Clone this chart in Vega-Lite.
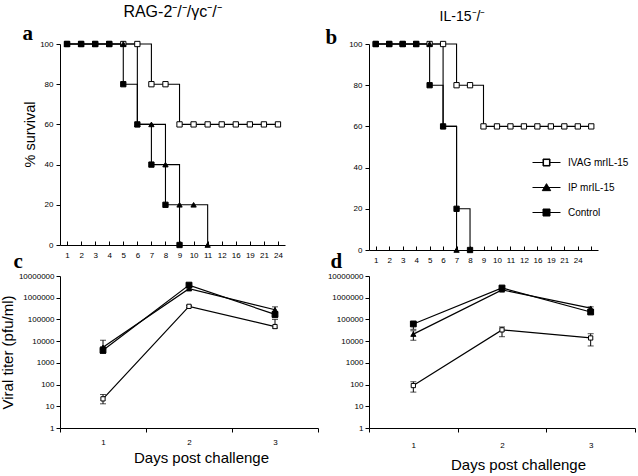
{
  "$schema": "https://vega.github.io/schema/vega-lite/v6.json",
  "background": "white",
  "padding": {"left": 0, "top": 4, "right": 2, "bottom": 2},
  "config": {
    "view": {"stroke": null},
    "font": "Liberation Sans",
    "axis": {"labelFont": "Liberation Sans", "titleFont": "Liberation Sans", "labelFontSize": 8, "labelColor": "black", "titleColor": "black", "titleFontWeight": "normal", "domainColor": "black", "tickColor": "black", "grid": false, "domainWidth": 1, "tickWidth": 1},
    "title": {"font": "Liberation Sans", "fontWeight": "normal", "color": "black"}
  },
  "datasets": {
    "surv": [
      {"panel":"a","series":"IVAG mrIL-15","day":"1","pct":100},
      {"panel":"a","series":"IVAG mrIL-15","day":"2","pct":100},
      {"panel":"a","series":"IVAG mrIL-15","day":"3","pct":100},
      {"panel":"a","series":"IVAG mrIL-15","day":"4","pct":100},
      {"panel":"a","series":"IVAG mrIL-15","day":"5","pct":100},
      {"panel":"a","series":"IVAG mrIL-15","day":"6","pct":100},
      {"panel":"a","series":"IVAG mrIL-15","day":"7","pct":80},
      {"panel":"a","series":"IVAG mrIL-15","day":"8","pct":80},
      {"panel":"a","series":"IVAG mrIL-15","day":"9","pct":60},
      {"panel":"a","series":"IVAG mrIL-15","day":"10","pct":60},
      {"panel":"a","series":"IVAG mrIL-15","day":"11","pct":60},
      {"panel":"a","series":"IVAG mrIL-15","day":"12","pct":60},
      {"panel":"a","series":"IVAG mrIL-15","day":"16","pct":60},
      {"panel":"a","series":"IVAG mrIL-15","day":"19","pct":60},
      {"panel":"a","series":"IVAG mrIL-15","day":"21","pct":60},
      {"panel":"a","series":"IVAG mrIL-15","day":"24","pct":60},
      {"panel":"a","series":"IP mrIL-15","day":"1","pct":100},
      {"panel":"a","series":"IP mrIL-15","day":"2","pct":100},
      {"panel":"a","series":"IP mrIL-15","day":"3","pct":100},
      {"panel":"a","series":"IP mrIL-15","day":"4","pct":100},
      {"panel":"a","series":"IP mrIL-15","day":"5","pct":100},
      {"panel":"a","series":"IP mrIL-15","day":"6","pct":60},
      {"panel":"a","series":"IP mrIL-15","day":"7","pct":60},
      {"panel":"a","series":"IP mrIL-15","day":"8","pct":40},
      {"panel":"a","series":"IP mrIL-15","day":"9","pct":20},
      {"panel":"a","series":"IP mrIL-15","day":"10","pct":20},
      {"panel":"a","series":"IP mrIL-15","day":"11","pct":0},
      {"panel":"a","series":"Control","day":"1","pct":100},
      {"panel":"a","series":"Control","day":"2","pct":100},
      {"panel":"a","series":"Control","day":"3","pct":100},
      {"panel":"a","series":"Control","day":"4","pct":100},
      {"panel":"a","series":"Control","day":"5","pct":80},
      {"panel":"a","series":"Control","day":"6","pct":60},
      {"panel":"a","series":"Control","day":"7","pct":40},
      {"panel":"a","series":"Control","day":"8","pct":20},
      {"panel":"a","series":"Control","day":"9","pct":0},
      {"panel":"b","series":"IVAG mrIL-15","day":"1","pct":100},
      {"panel":"b","series":"IVAG mrIL-15","day":"2","pct":100},
      {"panel":"b","series":"IVAG mrIL-15","day":"3","pct":100},
      {"panel":"b","series":"IVAG mrIL-15","day":"4","pct":100},
      {"panel":"b","series":"IVAG mrIL-15","day":"5","pct":100},
      {"panel":"b","series":"IVAG mrIL-15","day":"6","pct":100},
      {"panel":"b","series":"IVAG mrIL-15","day":"7","pct":80},
      {"panel":"b","series":"IVAG mrIL-15","day":"8","pct":80},
      {"panel":"b","series":"IVAG mrIL-15","day":"9","pct":60},
      {"panel":"b","series":"IVAG mrIL-15","day":"10","pct":60},
      {"panel":"b","series":"IVAG mrIL-15","day":"11","pct":60},
      {"panel":"b","series":"IVAG mrIL-15","day":"12","pct":60},
      {"panel":"b","series":"IVAG mrIL-15","day":"16","pct":60},
      {"panel":"b","series":"IVAG mrIL-15","day":"19","pct":60},
      {"panel":"b","series":"IVAG mrIL-15","day":"21","pct":60},
      {"panel":"b","series":"IVAG mrIL-15","day":"24","pct":60},
      {"panel":"b","series":"IVAG mrIL-15","day":"27","pct":60},
      {"panel":"b","series":"IP mrIL-15","day":"1","pct":100},
      {"panel":"b","series":"IP mrIL-15","day":"2","pct":100},
      {"panel":"b","series":"IP mrIL-15","day":"3","pct":100},
      {"panel":"b","series":"IP mrIL-15","day":"4","pct":100},
      {"panel":"b","series":"IP mrIL-15","day":"5","pct":100},
      {"panel":"b","series":"IP mrIL-15","day":"6","pct":60},
      {"panel":"b","series":"IP mrIL-15","day":"7","pct":0},
      {"panel":"b","series":"Control","day":"1","pct":100},
      {"panel":"b","series":"Control","day":"2","pct":100},
      {"panel":"b","series":"Control","day":"3","pct":100},
      {"panel":"b","series":"Control","day":"4","pct":100},
      {"panel":"b","series":"Control","day":"5","pct":80},
      {"panel":"b","series":"Control","day":"6","pct":60},
      {"panel":"b","series":"Control","day":"7","pct":20},
      {"panel":"b","series":"Control","day":"8","pct":0}
    ],
    "titer": [
      {"panel":"c","series":"IVAG mrIL-15","day":1,"titer":22,"lo":13,"hi":35},
      {"panel":"c","series":"IVAG mrIL-15","day":2,"titer":400000,"lo":360000,"hi":440000},
      {"panel":"c","series":"IVAG mrIL-15","day":3,"titer":47000,"lo":40000,"hi":100000},
      {"panel":"c","series":"IP mrIL-15","day":1,"titer":5200,"lo":3200,"hi":11000},
      {"panel":"c","series":"IP mrIL-15","day":2,"titer":2600000,"lo":2200000,"hi":3000000},
      {"panel":"c","series":"IP mrIL-15","day":3,"titer":280000,"lo":200000,"hi":380000},
      {"panel":"c","series":"Control","day":1,"titer":3800,"lo":2700,"hi":5500},
      {"panel":"c","series":"Control","day":2,"titer":3800000,"lo":3200000,"hi":4500000},
      {"panel":"c","series":"Control","day":3,"titer":170000,"lo":120000,"hi":230000},
      {"panel":"d","series":"IVAG mrIL-15","day":1,"titer":90,"lo":45,"hi":135},
      {"panel":"d","series":"IVAG mrIL-15","day":2,"titer":33000,"lo":16000,"hi":45000},
      {"panel":"d","series":"IVAG mrIL-15","day":3,"titer":14000,"lo":6000,"hi":22000},
      {"panel":"d","series":"IP mrIL-15","day":1,"titer":21000,"lo":11000,"hi":30000},
      {"panel":"d","series":"IP mrIL-15","day":2,"titer":2300000,"lo":null,"hi":null},
      {"panel":"d","series":"IP mrIL-15","day":3,"titer":330000,"lo":280000,"hi":380000},
      {"panel":"d","series":"Control","day":1,"titer":62000,"lo":35000,"hi":72000},
      {"panel":"d","series":"Control","day":2,"titer":2800000,"lo":2400000,"hi":3300000},
      {"panel":"d","series":"Control","day":3,"titer":220000,"lo":180000,"hi":260000}
    ]
  },
  "columns": 2,
  "bounds": "flush",
  "align": "each",
  "spacing": {"row": 26, "column": 51},
  "resolve": {
    "scale": {"shape": "independent", "fill": "independent", "size": "independent"},
    "legend": {"shape": "independent", "fill": "independent", "size": "independent"}
  },
  "concat": [
    {
      "width": 225, "height": 201,
      "title": {"text": "RAG-2⁻/⁻/γc⁻/⁻", "fontSize": 16, "anchor": "middle", "frame": "group", "offset": 2},
      "data": {"name": "surv"},
      "transform": [{"filter": "datum.panel === 'a'"}],
      "layer": [
        {
          "mark": {"type": "line", "interpolate": "step-after", "color": "black", "strokeWidth": 1.1},
          "encoding": {
            "x": {"field": "day", "type": "ordinal", "scale": {"type": "point", "domain": ["1","2","3","4","5","6","7","8","9","10","11","12","16","19","21","24"], "padding": 0.5},
                  "axis": {"title": null, "labelAngle": 0, "tickSize": -4, "labelPadding": 10}},
            "y": {"field": "pct", "type": "quantitative", "scale": {"domain": [0, 100]},
                  "axis": {"values": [0,20,40,60,80,100], "title": "% survival", "titleFontSize": 14.5, "tickSize": 4, "labelPadding": 3, "titlePadding": 2, "titleY": 90}},
            "detail": {"field": "series"}
          }
        },
        {
          "mark": {"type": "point", "filled": true, "stroke": "black", "strokeWidth": 1, "opacity": 1, "size": 28},
          "encoding": {
            "x": {"field": "day", "type": "ordinal", "scale": {"type": "point", "domain": ["1","2","3","4","5","6","7","8","9","10","11","12","16","19","21","24"], "padding": 0.5},
                  "axis": {"orient": "top", "labels": false, "ticks": false, "domain": false, "title": "a", "titleFont": "Liberation Serif", "titleFontSize": 21, "titleFontWeight": "bold", "titleX": -38, "titleY": -5, "titleAlign": "left", "titleBaseline": "alphabetic", "titleAngle": 0}},
            "y": {"field": "pct", "type": "quantitative", "scale": {"domain": [0, 100]},
                  "axis": {"values": [0,20,40,60,80,100], "title": "% survival", "titleFontSize": 14.5, "tickSize": 4, "labelPadding": 3, "titlePadding": 2, "titleY": 90}},
            "shape": {"field": "series", "type": "nominal", "scale": {"domain": ["IVAG mrIL-15","IP mrIL-15","Control"], "range": ["square","triangle-up","square"]}, "legend": null},
            "fill": {"field": "series", "type": "nominal", "scale": {"domain": ["IVAG mrIL-15","IP mrIL-15","Control"], "range": ["white","black","black"]}, "legend": null}
          }
        }
      ],
      "resolve": {"axis": {"x": "independent"}}
    },
    {
      "width": 229, "height": 206,
      "title": {"text": "IL-15⁻/⁻", "fontSize": 14, "anchor": "middle", "frame": "group", "offset": 2, "dx": -21},
      "data": {"name": "surv"},
      "transform": [{"filter": "datum.panel === 'b'"}],
      "layer": [
        {
          "mark": {"type": "line", "interpolate": "step-after", "color": "black", "strokeWidth": 1.1},
          "encoding": {
            "x": {"field": "day", "type": "ordinal", "scale": {"type": "point", "domain": ["1","2","3","4","5","6","7","8","9","10","11","12","16","19","21","24","27"], "padding": 0.5},
                  "axis": {"title": null, "labelAngle": 0, "tickSize": -4, "labelPadding": 10, "labelExpr": "datum.value === '27' ? '' : datum.label"}},
            "y": {"field": "pct", "type": "quantitative", "scale": {"domain": [0, 100]},
                  "axis": {"values": [0,20,40,60,80,100], "title": null, "tickSize": 4, "labelPadding": 3}},
            "detail": {"field": "series"}
          }
        },
        {
          "mark": {"type": "point", "filled": true, "stroke": "black", "strokeWidth": 1, "opacity": 1, "size": 28},
          "encoding": {
            "x": {"field": "day", "type": "ordinal", "scale": {"type": "point", "domain": ["1","2","3","4","5","6","7","8","9","10","11","12","16","19","21","24","27"], "padding": 0.5},
                  "axis": {"orient": "top", "labels": false, "ticks": false, "domain": false, "title": "b", "titleFont": "Liberation Serif", "titleFontSize": 21, "titleFontWeight": "bold", "titleX": -44, "titleY": -1, "titleAlign": "left", "titleBaseline": "alphabetic", "titleAngle": 0}},
            "y": {"field": "pct", "type": "quantitative", "scale": {"domain": [0, 100]},
                  "axis": {"values": [0,20,40,60,80,100], "title": null, "tickSize": 4, "labelPadding": 3}},
            "shape": {"field": "series", "type": "nominal", "scale": {"domain": ["IVAG mrIL-15","IP mrIL-15","Control"], "range": ["square","triangle-up","square"]}, "legend": null},
            "fill": {"field": "series", "type": "nominal", "scale": {"domain": ["IVAG mrIL-15","IP mrIL-15","Control"], "range": ["white","black","black"]}, "legend": null}
          }
        },
        {
          "transform": [{"filter": "datum.panel === 'legend'"}],
          "mark": {"type": "point", "filled": true, "color": "black", "stroke": "black", "strokeWidth": 1, "opacity": 1},
          "encoding": {
            "x": {"field": "day", "type": "ordinal", "scale": {"type": "point", "domain": ["1","2","3","4","5","6","7","8","9","10","11","12","16","19","21","24","27"], "padding": 0.5}, "axis": null},
            "y": {"field": "pct", "type": "quantitative", "scale": {"domain": [0, 100]},
                  "axis": {"values": [0,20,40,60,80,100], "title": null, "tickSize": 4, "labelPadding": 3}},
            "shape": {"field": "series", "type": "nominal",
                      "scale": {"domain": ["IVAG mrIL-15","IP mrIL-15","Control"], "range": ["M-2,0H-0.5M0.5,0H2M-0.5,-0.5H0.5V0.5H-0.5ZM-0.42,-0.42V0.42H0.42V-0.42Z", "M-2,0H2M0,-0.55L0.6,0.45H-0.6Z", "M-2,0H2M-0.5,-0.5H0.5V0.5H-0.5Z"]},
                      "legend": {"orient": "none", "legendX": 170, "legendY": 111, "title": null, "padding": 0, "symbolSize": 196, "symbolOpacity": 1, "symbolStrokeWidth": 1, "labelFont": "Liberation Sans", "labelFontSize": 10, "labelColor": "black", "labelOffset": 14, "rowPadding": 12}}
          }
        }
      ],
      "resolve": {"axis": {"x": "independent"}, "scale": {"shape": "independent"}}
    },
    {
      "width": 258, "height": 152,
      "data": {"name": "titer"},
      "transform": [{"filter": "datum.panel === 'c'"}],
      "layer": [
        {
          "transform": [{"filter": "isValid(datum.lo)"}],
          "mark": {"type": "errorbar", "color": "black", "thickness": 1, "ticks": {"size": 6, "color": "black"}},
          "encoding": {
            "x": {"field": "day", "type": "ordinal", "scale": {"type": "band", "domain": [1,2,3], "paddingInner": 0, "paddingOuter": 0}, "axis": null},
            "y": {"field": "lo", "type": "quantitative", "scale": {"type": "log", "domain": [1, 10000000]},
                  "axis": {"values": [1,10,100,1000,10000,100000,1000000,10000000], "format": "d", "title": "Viral titer (pfu/ml)", "titleFontSize": 15, "tickSize": 4, "labelPadding": 2, "titlePadding": 3}},
            "y2": {"field": "hi"}
          }
        },
        {
          "mark": {"type": "line", "color": "black", "strokeWidth": 1.2},
          "encoding": {
            "x": {"field": "day", "type": "ordinal", "scale": {"type": "band", "domain": [1,2,3], "paddingInner": 0, "paddingOuter": 0},
                  "axis": {"title": "Days post challenge", "titleFontSize": 15, "labelAngle": 0, "tickBand": "extent", "tickSize": 4, "labelPadding": 6, "titleX": 141, "titleY": 34, "titleBaseline": "alphabetic"}},
            "y": {"field": "titer", "type": "quantitative", "scale": {"type": "log", "domain": [1, 10000000]},
                  "axis": {"values": [1,10,100,1000,10000,100000,1000000,10000000], "format": "d", "title": "Viral titer (pfu/ml)", "titleFontSize": 15, "tickSize": 4, "labelPadding": 2, "titlePadding": 3}},
            "detail": {"field": "series"}
          }
        },
        {
          "mark": {"type": "point", "filled": true, "stroke": "black", "strokeWidth": 1, "opacity": 1},
          "encoding": {
            "x": {"field": "day", "type": "ordinal", "scale": {"type": "band", "domain": [1,2,3], "paddingInner": 0, "paddingOuter": 0},
                  "axis": {"orient": "top", "labels": false, "ticks": false, "domain": false, "title": "c", "titleFont": "Liberation Serif", "titleFontSize": 21, "titleFontWeight": "bold", "titleX": -47, "titleY": -9, "titleAlign": "left", "titleBaseline": "alphabetic", "titleAngle": 0}},
            "y": {"field": "titer", "type": "quantitative", "scale": {"type": "log", "domain": [1, 10000000]},
                  "axis": {"values": [1,10,100,1000,10000,100000,1000000,10000000], "format": "d", "title": "Viral titer (pfu/ml)", "titleFontSize": 15, "tickSize": 4, "labelPadding": 2, "titlePadding": 3}},
            "shape": {"field": "series", "type": "nominal", "scale": {"domain": ["IVAG mrIL-15","IP mrIL-15","Control"], "range": ["square","triangle-up","square"]}, "legend": null},
            "fill": {"field": "series", "type": "nominal", "scale": {"domain": ["IVAG mrIL-15","IP mrIL-15","Control"], "range": ["white","black","black"]}, "legend": null},
            "size": {"field": "series", "type": "nominal", "scale": {"domain": ["IVAG mrIL-15","IP mrIL-15","Control"], "range": [18, 34, 48]}, "legend": null}
          }
        }
      ],
      "resolve": {"axis": {"x": "independent"}}
    },
    {
      "width": 266, "height": 152,
      "data": {"name": "titer"},
      "transform": [{"filter": "datum.panel === 'd'"}],
      "layer": [
        {
          "transform": [{"filter": "isValid(datum.lo)"}],
          "mark": {"type": "errorbar", "color": "black", "thickness": 1, "ticks": {"size": 6, "color": "black"}},
          "encoding": {
            "x": {"field": "day", "type": "ordinal", "scale": {"type": "band", "domain": [1,2,3], "paddingInner": 0, "paddingOuter": 0}, "axis": null},
            "y": {"field": "lo", "type": "quantitative", "scale": {"type": "log", "domain": [1, 10000000]},
                  "axis": {"values": [1,10,100,1000,10000,100000,1000000,10000000], "format": "d", "title": null, "tickSize": 4, "labelPadding": 2}},
            "y2": {"field": "hi"}
          }
        },
        {
          "mark": {"type": "line", "color": "black", "strokeWidth": 1.2},
          "encoding": {
            "x": {"field": "day", "type": "ordinal", "scale": {"type": "band", "domain": [1,2,3], "paddingInner": 0, "paddingOuter": 0},
                  "axis": {"title": "Days post challenge", "titleFontSize": 15, "labelAngle": 0, "tickBand": "extent", "tickSize": 4, "labelPadding": 9, "titleX": 149, "titleY": 41, "titleBaseline": "alphabetic"}},
            "y": {"field": "titer", "type": "quantitative", "scale": {"type": "log", "domain": [1, 10000000]},
                  "axis": {"values": [1,10,100,1000,10000,100000,1000000,10000000], "format": "d", "title": null, "tickSize": 4, "labelPadding": 2}},
            "detail": {"field": "series"}
          }
        },
        {
          "mark": {"type": "point", "filled": true, "stroke": "black", "strokeWidth": 1, "opacity": 1},
          "encoding": {
            "x": {"field": "day", "type": "ordinal", "scale": {"type": "band", "domain": [1,2,3], "paddingInner": 0, "paddingOuter": 0},
                  "axis": {"orient": "top", "labels": false, "ticks": false, "domain": false, "title": "d", "titleFont": "Liberation Serif", "titleFontSize": 21, "titleFontWeight": "bold", "titleX": -39, "titleY": -9, "titleAlign": "left", "titleBaseline": "alphabetic", "titleAngle": 0}},
            "y": {"field": "titer", "type": "quantitative", "scale": {"type": "log", "domain": [1, 10000000]},
                  "axis": {"values": [1,10,100,1000,10000,100000,1000000,10000000], "format": "d", "title": null, "tickSize": 4, "labelPadding": 2}},
            "shape": {"field": "series", "type": "nominal", "scale": {"domain": ["IVAG mrIL-15","IP mrIL-15","Control"], "range": ["square","triangle-up","square"]}, "legend": null},
            "fill": {"field": "series", "type": "nominal", "scale": {"domain": ["IVAG mrIL-15","IP mrIL-15","Control"], "range": ["white","black","black"]}, "legend": null},
            "size": {"field": "series", "type": "nominal", "scale": {"domain": ["IVAG mrIL-15","IP mrIL-15","Control"], "range": [18, 34, 48]}, "legend": null}
          }
        }
      ],
      "resolve": {"axis": {"x": "independent"}}
    }
  ]
}
